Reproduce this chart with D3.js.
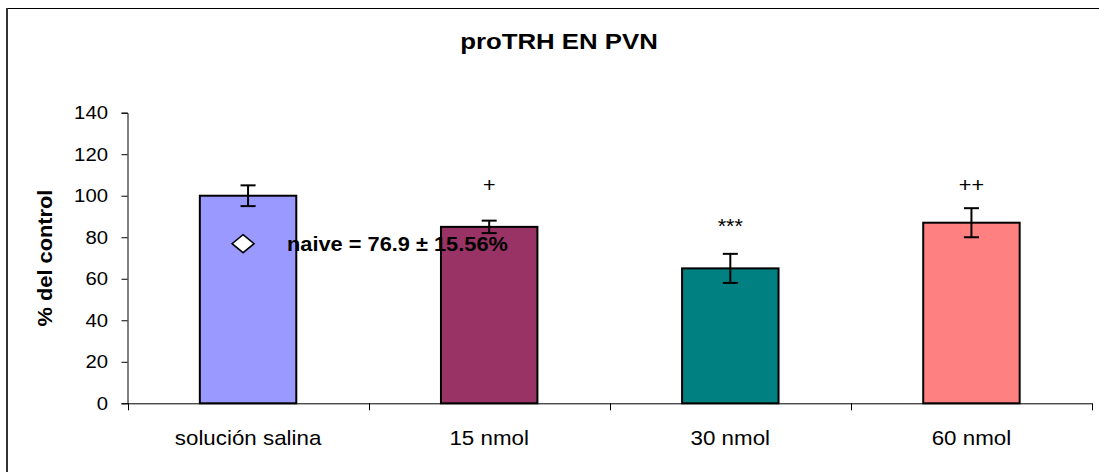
<!DOCTYPE html>
<html><head><meta charset="utf-8">
<script src="https://cdn.jsdelivr.net/npm/d3@7"></script>
<style>body{margin:0;background:#fff}svg{display:block}text{font-family:"Liberation Sans",Arial,sans-serif}</style>
</head><body><svg id="c" width="1099" height="472"></svg>
<script>
const categories = ["solución salina", "15 nmol", "30 nmol", "60 nmol"];
const values = [100, 85, 65, 87];
const errors = [5, 3, 7, 7];
const colors = ["#9999FF", "#993366", "#008080", "#FF8080"];
const marks = ["", "+", "***", "++"];
const markLevels = [null, 102, 82, 102];
const yTicks = [0, 20, 40, 60, 80, 100, 120, 140];
const naiveValue = 76.9;
const naiveLabel = "naive = 76.9 ± 15.56%";
const title = "proTRH EN PVN";
const yLabel = "% del control";

const svg = d3.select("#c");
const m = {left: 127.5, right: 1092, top: 112.7, bottom: 403.3};
const x = d3.scaleBand().domain(categories).range([m.left, m.right]).paddingInner(0.6).paddingOuter(0.3);
const xa = d3.scaleBand().domain(categories).range([m.left, m.right]);
const y = d3.scaleLinear().domain([0, 140]).range([m.bottom, m.top]);

// outer border
svg.append("rect").attr("x", 6.5).attr("y", 8.5).attr("width", 1200).attr("height", 600)
  .attr("fill", "none").attr("stroke", "#000").attr("stroke-width", 1);
svg.append("line").attr("x1", 7).attr("x2", 7).attr("y1", 8).attr("y2", 472).attr("stroke", "#333").attr("stroke-width", 2);

function stext(g, tx, ty, str, opts) {
  const sx = opts.sx || 1.08;
  const t = g.append("text").attr("transform", `translate(${tx},${ty})` + (opts.rot ? " rotate(-90)" : "") + ` scale(${sx},1)`)
    .attr("text-anchor", opts.anchor || "middle").attr("font-size", opts.size).attr("fill", "#000")
    .attr("font-weight", opts.bold ? "bold" : "normal").text(str);
  if (opts.dy) t.attr("dy", opts.dy);
  return t;
}

// title
stext(svg, 559, 49, title, {size: 21.5, bold: true, sx: 1.2});

// y axis
const yAxis = svg.append("g").attr("transform", `translate(${m.left},0)`)
  .call(d3.axisLeft(y).tickValues(yTicks).tickSize(6).tickFormat(d3.format("d")));
yAxis.select(".domain").attr("stroke", "#000");
yAxis.selectAll(".tick line").attr("stroke", "#000");
yAxis.selectAll(".tick text").remove();
yTicks.forEach(v => stext(svg, 108, y(v), String(v), {size: 19, anchor: "end", dy: "0.35em", sx: 1.07}));

// x axis
svg.append("line").attr("x1", m.left).attr("x2", m.right).attr("y1", m.bottom + 0.5).attr("y2", m.bottom + 0.5).attr("stroke", "#000");
const edges = categories.map(c => xa(c)).concat([m.right]);
svg.selectAll(".xt").data(edges).enter().append("line")
  .attr("x1", d => Math.round(d) + 0.5).attr("x2", d => Math.round(d) + 0.5)
  .attr("y1", m.bottom).attr("y2", m.bottom + 7).attr("stroke", "#000");
categories.forEach(c => stext(svg, xa(c) + xa.bandwidth() / 2, 445, c, {size: 20.5, sx: 1.09}));

// y label
stext(svg, 52, 258, yLabel, {size: 20, bold: true, rot: true, sx: 1.09});

// bars
svg.selectAll(".bar").data(categories).enter().append("rect")
  .attr("x", d => x(d)).attr("width", x.bandwidth())
  .attr("y", (d, i) => y(values[i])).attr("height", (d, i) => y(0) - y(values[i]))
  .attr("fill", (d, i) => colors[i]).attr("stroke", "#000").attr("stroke-width", 2);

// error bars
const eb = svg.selectAll(".eb").data(categories).enter().append("g")
  .attr("stroke", "#000").attr("stroke-width", 2);
eb.append("line").attr("x1", d => x(d) + x.bandwidth() / 2).attr("x2", d => x(d) + x.bandwidth() / 2)
  .attr("y1", (d, i) => y(values[i] + errors[i])).attr("y2", (d, i) => y(values[i] - errors[i]));
eb.append("line").attr("x1", d => x(d) + x.bandwidth() / 2 - 7.5).attr("x2", d => x(d) + x.bandwidth() / 2 + 7.5)
  .attr("y1", (d, i) => y(values[i] + errors[i])).attr("y2", (d, i) => y(values[i] + errors[i]));
eb.append("line").attr("x1", d => x(d) + x.bandwidth() / 2 - 7.5).attr("x2", d => x(d) + x.bandwidth() / 2 + 7.5)
  .attr("y1", (d, i) => y(values[i] - errors[i])).attr("y2", (d, i) => y(values[i] - errors[i]));

// significance marks
categories.forEach((c, i) => {
  if (marks[i]) stext(svg, x(c) + x.bandwidth() / 2, y(markLevels[i]), marks[i], {size: 20, sx: 1.08});
});

// naive diamond
const dx = x(categories[0]) + x.bandwidth() / 2 - 5, dyv = y(naiveValue);
svg.append("path").attr("d", `M${dx},${dyv - 9}L${dx + 11},${dyv}L${dx},${dyv + 9}L${dx - 11},${dyv}Z`)
  .attr("fill", "#fff").attr("stroke", "#000").attr("stroke-width", 1.5);
stext(svg, 287, y(naiveValue) + 7, naiveLabel, {size: 20, bold: true, anchor: "start", sx: 1.09});
</script></body></html>
